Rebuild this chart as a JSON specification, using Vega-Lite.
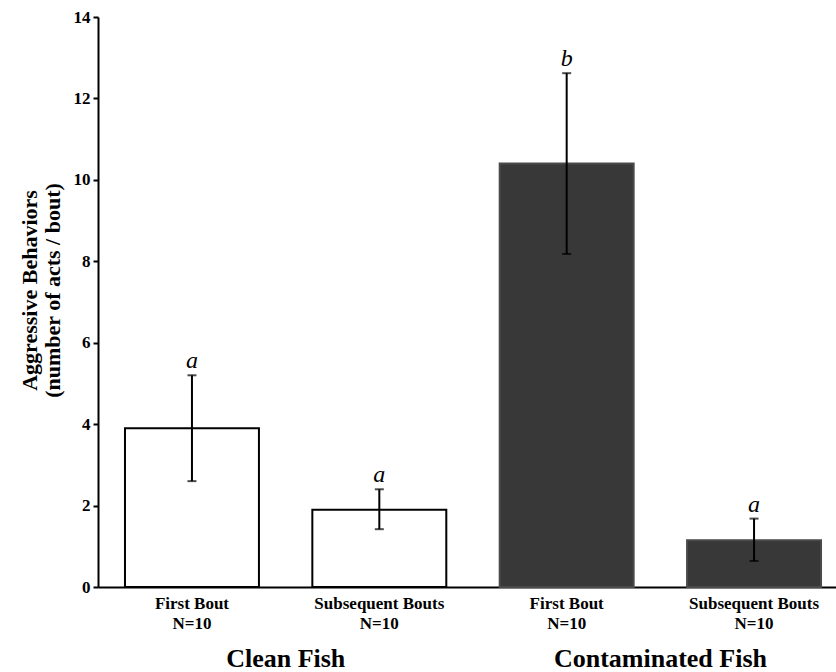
{
  "$schema": "https://vega.github.io/schema/vega-lite/v6.json",
  "width": 738,
  "height": 570,
  "autosize": {"type": "none"},
  "padding": {"left": 98, "right": 0, "top": 17, "bottom": 85},
  "background": "white",
  "config": {"view": {"stroke": null}, "font": "Liberation Serif"},
  "data": {
    "values": [
      {"id": "Clean Fish|First Bout|N=10", "group": "Clean Fish", "bout": "First Bout", "mean": 3.9, "lo": 2.6, "hi": 5.2, "sig": "a"},
      {"id": "Clean Fish|Subsequent Bouts|N=10", "group": "Clean Fish", "bout": "Subsequent Bouts", "mean": 1.9, "lo": 1.42, "hi": 2.4, "sig": "a"},
      {"id": "Contaminated Fish|First Bout|N=10", "group": "Contaminated Fish", "bout": "First Bout", "mean": 10.4, "lo": 8.18, "hi": 12.62, "sig": "b"},
      {"id": "Contaminated Fish|Subsequent Bouts|N=10", "group": "Contaminated Fish", "bout": "Subsequent Bouts", "mean": 1.15, "lo": 0.64, "hi": 1.68, "sig": "a"}
    ]
  },
  "encoding": {
    "x": {
      "field": "id",
      "type": "nominal",
      "sort": null,
      "scale": {"range": [0, 750], "paddingInner": 0.285, "paddingOuter": 0.144},
      "axis": {
        "title": null,
        "labelExpr": "slice(split(datum.label, '|'), 1)",
        "labelAngle": 0,
        "labelFont": "Liberation Serif",
        "labelFontWeight": "bold",
        "labelFontSize": 17,
        "labelColor": "black",
        "labelLineHeight": 20,
        "labelPadding": 8,
        "ticks": false,
        "domainColor": "black",
        "domainWidth": 2
      }
    }
  },
  "layer": [
    {
      "mark": {"type": "bar", "strokeWidth": 2},
      "encoding": {
        "y": {
          "field": "mean",
          "type": "quantitative",
          "scale": {"domain": [0, 14], "nice": false},
          "axis": {
            "values": [0, 2, 4, 6, 8, 10, 12, 14],
            "grid": false,
            "title": ["Aggressive Behaviors", "(number of acts / bout)"],
            "titleFont": "Liberation Serif",
            "titleFontWeight": "bold",
            "titleFontSize": 22,
            "titleLineHeight": 23,
            "titleColor": "black",
            "titlePadding": 9,
            "titleY": 273,
            "labelFont": "Liberation Serif",
            "labelFontWeight": "bold",
            "labelFontSize": 17,
            "labelColor": "black",
            "labelPadding": 3,
            "tickSize": 5,
            "tickWidth": 2,
            "tickColor": "black",
            "domainColor": "black",
            "domainWidth": 2
          }
        },
        "fill": {
          "field": "group",
          "type": "nominal",
          "scale": {"domain": ["Clean Fish", "Contaminated Fish"], "range": ["white", "#383838"]},
          "legend": null
        },
        "stroke": {
          "field": "group",
          "type": "nominal",
          "scale": {"domain": ["Clean Fish", "Contaminated Fish"], "range": ["black", "#4a4a4a"]},
          "legend": null
        }
      }
    },
    {
      "mark": {"type": "rule", "color": "black", "strokeWidth": 2},
      "encoding": {
        "y": {"field": "lo", "type": "quantitative"},
        "y2": {"field": "hi"}
      }
    },
    {
      "mark": {"type": "tick", "color": "black", "size": 9, "thickness": 2},
      "encoding": {"y": {"field": "hi", "type": "quantitative"}}
    },
    {
      "mark": {"type": "tick", "color": "black", "size": 9, "thickness": 2},
      "encoding": {"y": {"field": "lo", "type": "quantitative"}}
    },
    {
      "mark": {"type": "text", "font": "Liberation Serif", "fontStyle": "italic", "fontSize": 24, "color": "black", "baseline": "alphabetic", "dy": -7},
      "encoding": {
        "y": {"field": "hi", "type": "quantitative"},
        "text": {"field": "sig"}
      }
    },
    {
      "transform": [{"filter": "datum.bout == 'First Bout'"}],
      "mark": {"type": "text", "font": "Liberation Serif", "fontWeight": "bold", "fontSize": 26, "color": "black", "baseline": "alphabetic", "y": "height", "dy": 80},
      "encoding": {
        "x": {"field": "id", "type": "nominal", "sort": null, "bandPosition": 1.2},
        "text": {"field": "group"}
      }
    }
  ]
}
